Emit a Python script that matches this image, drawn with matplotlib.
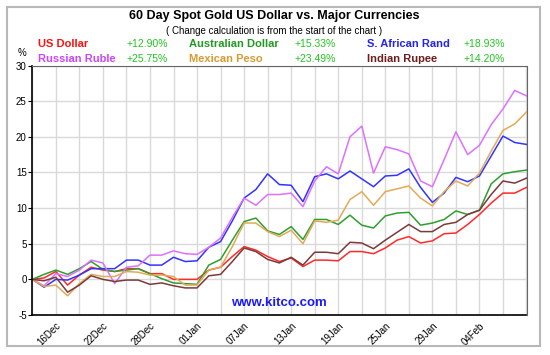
import matplotlib
matplotlib.use('Agg')
import matplotlib.pyplot as plt
from matplotlib.patches import Rectangle

plt.rcParams['font.family'] = ['Liberation Sans', 'DejaVu Sans']
plt.rcParams['axes.unicode_minus'] = False

# etiquetas del eje x (una cada 4 puntos, empezando en el punto 2)
fechas = ['16Dec', '22Dec', '28Dec', '01Jan', '07Jan', '13Jan', '19Jan', '25Jan', '29Jan', '04Feb']

# variacion % del oro en cada moneda, desde el inicio del grafico
us_dollar = [0, 0.2, 1.1, -0.8, 0.6, 1.7, 1.3, 1.1, 1.5, 1.5, 0.8, 0.8, 0.0, 0.0, 0.0, 1.3, 1.7,
             3.2, 4.6, 4.1, 3.2, 2.5, 3.0, 1.8, 2.7, 2.7, 2.6, 3.9, 3.9,
             3.6, 4.4, 5.5, 6.0, 5.1, 5.4, 6.4, 6.5, 7.7, 9.1, 10.7, 12.1, 12.1, 12.9]
aus_dollar = [0, 0.7, 1.3, 0.7, 1.5, 2.5, 1.4, 1.1, 1.3, 1.5, 0.8, 0.1, -0.5, -0.6, -0.7, 2.0, 2.8,
              5.5, 8.1, 8.6, 6.8, 6.3, 7.4, 5.6, 8.4, 8.4, 7.7, 9.0, 7.6,
              7.2, 8.9, 9.3, 9.4, 7.6, 7.9, 8.4, 9.6, 9.1, 9.7, 13.4, 14.8, 15.1, 15.33]
sa_rand = [0, -1.1, 0, -0.1, 0.6, 1.5, 1.5, 1.5, 2.7, 2.7, 2.0, 2.0, 3.1, 2.5, 2.6, 4.5, 5.3,
           8.2, 11.4, 12.6, 14.8, 13.3, 13.2, 10.9, 14.4, 14.8, 14.1, 15.2, 14.1,
           13.0, 14.5, 14.6, 15.5, 12.9, 10.8, 12.1, 14.3, 13.7, 14.5, 17.3, 20.1, 19.2, 18.93]
rus_ruble = [0, -0.9, 0.8, 0.4, 1.3, 2.7, 2.3, -0.6, 1.7, 1.9, 3.4, 3.4, 4.0, 3.6, 3.5, 4.5, 5.8,
             8.7, 11.4, 10.4, 11.9, 11.9, 12.1, 10.2, 13.8, 15.8, 14.8, 20.0, 21.5,
             14.9, 18.6, 18.2, 17.6, 13.8, 13.0, 16.8, 20.7, 17.5, 18.8, 21.7, 23.9, 26.5, 25.75]
mex_peso = [0, -1.0, -0.8, -2.3, -0.6, 0.7, 0.4, 0.4, 1.1, 1.0, 0.6, 0.6, 0.4, -0.8, -0.8, 1.3, 1.7,
            4.6, 7.9, 7.9, 6.7, 6.0, 6.9, 5.0, 8.2, 8.0, 8.3, 11.2, 12.3,
            10.4, 12.3, 12.7, 13.1, 11.4, 10.3, 12.3, 13.8, 13.1, 14.9, 18.0, 20.9, 21.8, 23.49]
ind_rupee = [0, -0.2, 0.3, -1.8, -0.8, 0.5, 0, -0.3, -0.1, -0.1, -0.7, -0.5, -0.9, -1.2, -1.2, 0.5, 0.7,
             2.5, 4.4, 3.9, 2.8, 2.3, 3.1, 2.0, 3.8, 3.8, 3.6, 5.2, 5.1,
             4.3, 5.5, 6.6, 7.7, 6.7, 6.7, 7.7, 8.0, 9.1, 9.7, 11.9, 13.8, 13.5, 14.2]

nombres = ['US Dollar', 'Australian Dollar', 'S. African Rand',
           'Russian Ruble', 'Mexican Peso', 'Indian Rupee']
series = [us_dollar, aus_dollar, sa_rand, rus_ruble, mex_peso, ind_rupee]
cambios = ['+12.90%', '+15.33%', '+18.93%', '+25.75%', '+23.49%', '+14.20%']
col_linea = ['#ff2a2a', '#2f9e2f', '#3333ff', '#dd70ff', '#e2aa55', '#7a3a3a']
col_texto = ['#ff1010', '#229922', '#2424ee', '#cc44ff', '#d89a30', '#6e1c1c']

fig = plt.figure(figsize=(5.5, 3.55), dpi=100)
fig.patches.append(Rectangle((7 / 550, 1 - 346 / 355), 533 / 550, 339 / 355,
                             transform=fig.transFigure, fill=False,
                             edgecolor='#b8b8b8', linewidth=1.5))

ax = fig.add_axes([32.3 / 550, 1 - 315 / 355, 494.2 / 550, 249.5 / 355])
x = list(range(len(us_dollar)))
for s, c in zip(series, col_linea):
    ax.plot(x, s, color=c, linewidth=1.1)

ax.set_xlim(0, 42)
ax.set_ylim(-5, 30)
ax.set_xticks(range(0, 43, 2), minor=True)
ax.set_xticks(range(2, 40, 4))
ax.set_xticklabels(fechas, rotation=45, ha='right', va='top', fontsize=7,
                   rotation_mode='anchor')
ax.set_yticks(range(-5, 31, 5))
ax.tick_params(axis='y', labelsize=7, length=3, pad=1)
ax.tick_params(axis='x', which='both', length=0, pad=4)
ax.grid(True, which='both', color='#d9d9d9', linewidth=1)
ax.set_axisbelow(True)
for lado in ['top', 'right']:
    ax.spines[lado].set_color('#666666')
for lado in ['left', 'bottom']:
    ax.spines[lado].set_color('black')
    ax.spines[lado].set_linewidth(1.2)

ax.text(0.5, 0.024, 'www.kitco.com', transform=ax.transAxes, ha='center', va='bottom',
        color='#1a1aff', fontsize=9.5, fontweight='bold')

# titulos y leyenda en texto
fig.text(274 / 550, 1 - 16 / 355, '60 Day Spot Gold US Dollar vs. Major Currencies',
         ha='center', va='center', fontsize=9, fontweight='bold')
fig.text(274 / 550, 1 - 31.5 / 355, '( Change calculation is from the start of the chart )',
         ha='center', va='center', fontsize=7)
fig.text(22 / 550, 1 - 52.5 / 355, '%', ha='center', va='center', fontsize=7)

x_nombre = [38, 189, 367]
x_cambio = [127, 295, 464]
y_fila = [44.3, 58.5]
for i in range(6):
    fila, colu = divmod(i, 3)
    yy = 1 - y_fila[fila] / 355
    fig.text(x_nombre[colu] / 550, yy, nombres[i], ha='left', va='center',
             color=col_texto[i], fontsize=8, fontweight='bold')
    fig.text(x_cambio[colu] / 550, yy, cambios[i], ha='left', va='center',
             color='#22c422', fontsize=7.5)

plt.savefig('out.png', dpi=100)
